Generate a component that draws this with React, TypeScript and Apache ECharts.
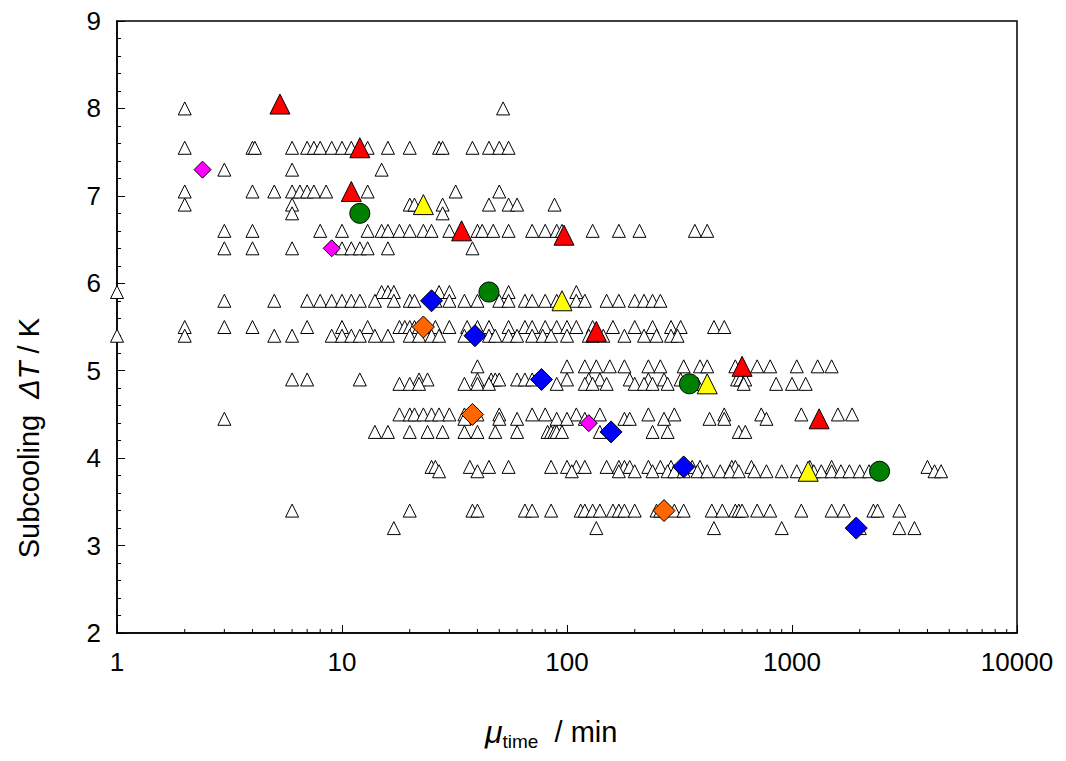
import { useEffect, useRef } from 'react'
import * as echarts from 'echarts'

// open triangles, one row per ΔT level: [ΔT, times (min)]
const openRows: [number, number[]][] = [
  [8.0, [2, 52]],
  [7.55, [2, 4, 4.1, 6, 7, 7.5, 8, 9, 10, 11, 12, 13, 16, 20, 27, 28, 38, 45, 50, 55]],
  [7.3, [3, 6, 15]],
  [7.05, [2, 4, 5, 6, 6.5, 7, 7.5, 8.5, 11, 13, 32, 50]],
  [6.9, [2, 6, 20, 21, 28, 45, 55, 60, 88]],
  [6.8, [6, 28]],
  [6.6, [3, 4, 8, 10, 13, 15, 16, 18, 20, 23, 25, 30, 40, 42, 47, 55, 70, 80, 90, 95, 130, 170, 210, 370, 420]],
  [6.4, [3, 4, 6, 10, 11, 12, 13, 16, 38]],
  [5.9, [1, 15, 16, 17, 27, 30, 55, 110]],
  [5.8, [3, 5, 7, 8, 9, 10, 11, 12, 14, 17, 20, 21, 26, 30, 35, 40, 50, 55, 65, 70, 80, 90, 110, 120, 150, 170, 200, 220, 240, 260]],
  [5.5, [2, 3, 4, 7, 10, 13, 18, 19, 20, 21, 22, 24, 26, 30, 36, 40, 45, 55, 65, 70, 80, 90, 100, 110, 130, 160, 200, 240, 290, 320, 450, 500]],
  [5.4, [1, 2, 5, 6, 9, 10, 11, 12, 14, 16, 20, 22, 25, 27, 35, 45, 48, 55, 60, 70, 78, 85, 100, 125, 130, 145, 180, 220, 250, 290, 310]],
  [5.05, [40, 100, 120, 135, 155, 180, 230, 260, 330, 390, 420, 560, 700, 800, 1050, 1300, 1500]],
  [4.9, [6, 7, 12, 22, 24, 40, 46, 48, 50, 60, 65, 70, 100, 125, 140, 190, 230, 270, 320, 570, 590, 620]],
  [4.85, [18, 20, 22, 35, 40, 45, 90, 120, 130, 150, 200, 220, 240, 280, 380, 610, 850, 1000, 1150]],
  [4.5, [18, 20, 21, 23, 25, 27, 30, 35, 40, 50, 70, 80, 110, 140, 230, 300, 500, 730, 1100, 1600, 1850]],
  [4.45, [3, 35, 50, 60, 90, 100, 120, 180, 190, 270, 430, 500, 770]],
  [4.3, [14, 16, 20, 24, 28, 35, 40, 48, 60, 82, 85, 88, 90, 95, 140, 240, 280, 580, 620]],
  [3.9, [25, 26, 37, 45, 55, 85, 100, 110, 120, 150, 170, 180, 190, 230, 260, 290, 360, 390, 540, 560, 660, 1200, 1500, 4000]],
  [3.85, [27, 40, 105, 170, 200, 240, 280, 300, 330, 380, 420, 480, 530, 580, 680, 770, 900, 1050, 1250, 1350, 1500, 1650, 1800, 2000, 2200, 4300, 4600]],
  [3.4, [6, 20, 38, 40, 65, 70, 85, 115, 120, 130, 140, 160, 170, 180, 200, 250, 260, 300, 330, 440, 490, 560, 580, 600, 700, 800, 1100, 1500, 1700, 2300, 2400, 3000]],
  [3.2, [17, 135, 450, 900, 2000, 3000, 3500]],
]

const redTri = [[5.3, 8.05], [12, 7.55], [11, 7.05], [34, 6.6], [97, 6.55], [135, 5.45], [600, 5.05], [1320, 4.45]]
const yellowTri = [[23, 6.9], [95, 5.8], [420, 4.85], [1180, 3.85]]
const greenCircle = [[12, 6.8], [45, 5.9], [350, 4.85], [2450, 3.85]]
const blueDiamond = [[25, 5.8], [39, 5.4], [77, 4.9], [157, 4.3], [330, 3.9], [1930, 3.2]]
const orangeDiamond = [[23, 5.5], [38, 4.5], [270, 3.4]]
const magentaDiamond = [[2.4, 7.3], [9, 6.4], [125, 4.4]]

const xTicks = [1, 10, 100, 1000, 10000]
const minorX: number[] = []
for (let d = 1; d < 10000; d *= 10) for (let k = 2; k <= 9; k++) minorX.push(d * k)

const font = 'Arial, "Liberation Sans", sans-serif'

export default function App() {
  const ref = useRef<HTMLDivElement | null>(null)

  useEffect(() => {
    if (!ref.current) return
    const chart = echarts.init(ref.current, null, { renderer: 'svg' })
    const openData = openRows.flatMap(([y, xs]) => xs.map((x) => [x, y]))
    const filled = (name: string, symbol: string, color: string, data: number[][], size: number) => ({
      name,
      type: 'scatter',
      symbol,
      symbolSize: size,
      data,
      z: 5,
      itemStyle: { color, borderColor: '#000', borderWidth: 1, opacity: 1 },
    })
    chart.setOption({
      animation: false,
      textStyle: { fontFamily: font },
      grid: { left: 109, right: 41, top: 11, bottom: 120, show: true, borderColor: '#000', borderWidth: 1.5 },
      xAxis: {
        type: 'log',
        min: 1,
        max: 10000,
        logBase: 10,
        axisLine: { lineStyle: { color: '#000', width: 1.5 } },
        axisTick: { inside: true, length: 8, lineStyle: { color: '#000' } },
        axisLabel: { color: '#000', fontSize: 26, margin: 16, formatter: (v: number) => (xTicks.includes(v) ? String(v) : '') },
        splitLine: { show: false },
      },
      yAxis: {
        type: 'value',
        min: 2,
        max: 9,
        interval: 1,
        axisLine: { show: true, lineStyle: { color: '#000', width: 1.5 } },
        axisTick: { inside: true, length: 8, lineStyle: { color: '#000' } },
        minorTick: { show: true, splitNumber: 5, length: 4, lineStyle: { color: '#000' } },
        axisLabel: { color: '#000', fontSize: 26, margin: 16 },
        splitLine: { show: false },
      },
      graphic: [
        {
          type: 'text',
          left: 6,
          top: 310,
          rotation: Math.PI / 2,
          style: {
            text: '{n|Subcooling  }{i|ΔT}{n| / K}',
            rich: {
              n: { fontSize: 29, fontFamily: font, fill: '#000' },
              i: { fontSize: 29, fontFamily: font, fontStyle: 'italic', fill: '#000' },
            },
            align: 'center',
            verticalAlign: 'top',
          },
        },
        {
          type: 'text',
          left: 477,
          top: 708,
          style: {
            text: '{i|μ}{s|time}{n|  / min}',
            rich: {
              n: { fontSize: 29, fontFamily: font, fill: '#000' },
              i: { fontSize: 32, fontFamily: font, fontStyle: 'italic', fill: '#000' },
              s: { fontSize: 19, fontFamily: font, fill: '#000', padding: [18, 0, 0, 0] },
            },
          },
        },
      ],
      series: [
        {
          type: 'custom',
          silent: true,
          data: minorX.map((x) => [x, 2]),
          renderItem: (_p: any, api: any) => {
            const pt = api.coord([api.value(0), 2])
            return { type: 'line', shape: { x1: pt[0], y1: pt[1], x2: pt[0], y2: pt[1] - 4 }, style: { stroke: '#000', lineWidth: 1 } }
          },
          z: 1,
        },
        {
          name: 'open',
          type: 'scatter',
          symbol: 'triangle',
          symbolSize: 13,
          data: openData,
          itemStyle: { color: '#fff', borderColor: '#000', borderWidth: 1, opacity: 1 },
        },
        filled('red', 'triangle', '#ff0000', redTri, 20),
        filled('yellow', 'triangle', '#ffff00', yellowTri, 20),
        filled('green', 'circle', '#008000', greenCircle, 20),
        filled('blue', 'diamond', '#0000ff', blueDiamond, 22),
        filled('orange', 'diamond', '#ff6600', orangeDiamond, 22),
        filled('magenta', 'diamond', '#ff00ff', magentaDiamond, 17),
      ],
    })
    return () => chart.dispose()
  }, [])

  return <div ref={ref} style={{ width: 1050, height: 745 }} />
}
